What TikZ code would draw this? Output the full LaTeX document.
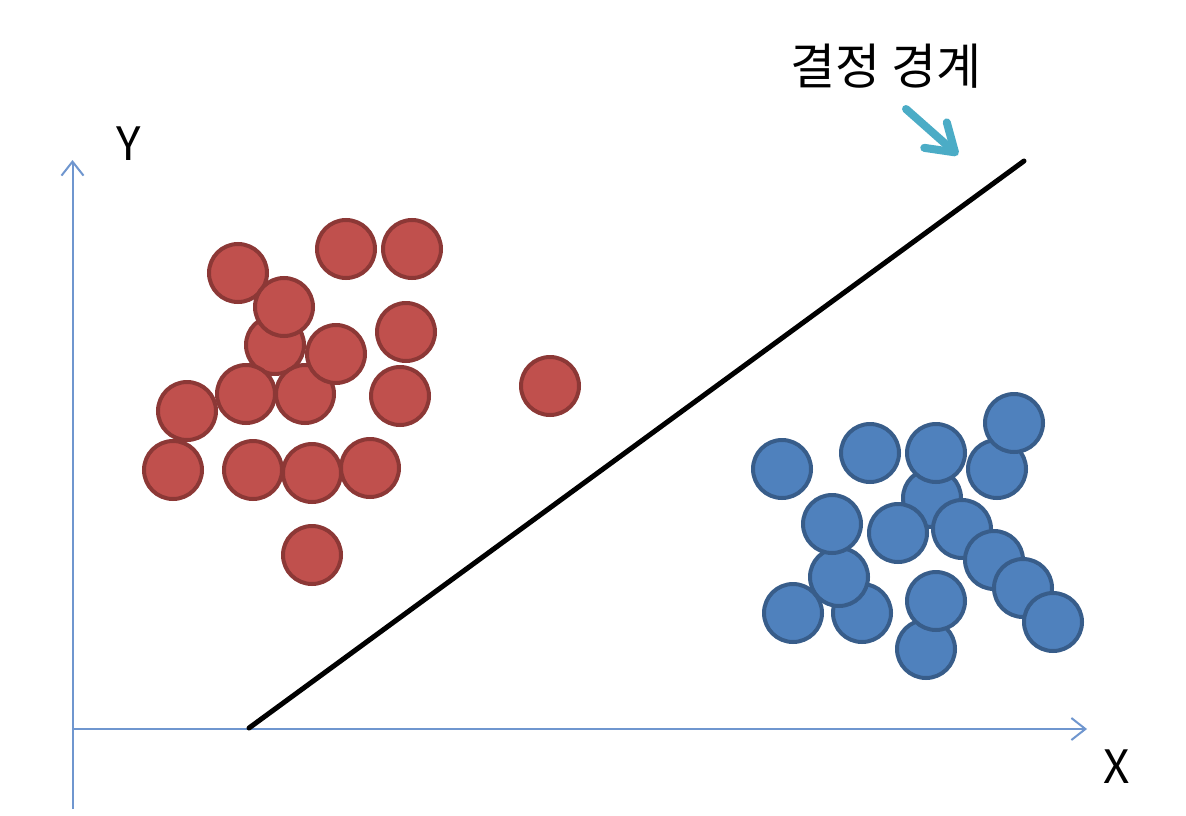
\documentclass[tikz,border=0pt]{standalone}
\usepackage{fontspec}
\setmainfont{Noto Sans CJK KR}
\usetikzlibrary{arrows.meta}
\definecolor{redfill}{HTML}{C0504D}
\definecolor{redline}{HTML}{8C3836}
\definecolor{bluefill}{HTML}{4F81BD}
\definecolor{blueline}{HTML}{385D8A}
\definecolor{axiscol}{HTML}{6F96CF}
\definecolor{aqua}{HTML}{4BACC6}
\tikzset{
  dot/.style={circle, minimum size=58pt, inner sep=0pt, line width=4pt},
  reddot/.style={dot, fill=redfill, draw=redline},
  bluedot/.style={dot, fill=bluefill, draw=blueline},
  axisline/.style={draw=axiscol, line width=2pt, -{Straight Barb[length=14pt,width=22pt]}},
  boundary/.style={draw=black, line width=5pt, line cap=round},
  pointer/.style={draw=aqua, line width=8pt, line cap=round, -{Straight Barb[round,length=26pt,width=34pt]}},
  bigtext/.style={inner sep=0pt, font=\fontsize{46}{52}\selectfont},
  labtext/.style={inner sep=0pt, font=\fontsize{49}{55}\selectfont}
}
\begin{document}
\begin{tikzpicture}[x=1pt,y=-1pt]
\useasboundingbox[fill=white] (0,0) rectangle (1186,816);
% axes
\coordinate (o) at (72.5,729);
\coordinate (ybot) at (72.5,809);
\coordinate (ytop) at (72.5,160);
\coordinate (xleft) at (72.5,729);
\coordinate (xright) at (1087,729);
\draw[draw=axiscol, line width=2pt] (ybot) -- (o);
\draw[axisline] (o) -- (ytop);
\draw[axisline] (xleft) -- (xright);
\node[bigtext] (ylab) at (129,144) {Y};
\node[bigtext] (xlab) at (1117,767) {X};
% decision boundary
\coordinate (b1) at (249,728);
\coordinate (b2) at (1024,161);
\draw[boundary] (b1) -- (b2);
% label and pointer
\node[labtext] (lab) at (886,66) {결정 경계};
\coordinate (ps) at (906,109);
\coordinate (pe) at (958,155);
\draw[pointer] (ps) -- (pe);
% red points
\node[reddot] (r12) at (173,470) {};
\node[reddot] (r11) at (187,411) {};
\node[reddot] (r13) at (253,470) {};
\node[reddot] (r14) at (312,473) {};
\node[reddot] (r15) at (370,468) {};
\node[reddot] (r1) at (238,273) {};
\node[reddot] (r5) at (275,345) {};
\node[reddot] (r8) at (246,394) {};
\node[reddot] (r9) at (305,394) {};
\node[reddot] (r6) at (336,354) {};
\node[reddot] (r4) at (284,307) {};
\node[reddot] (r2) at (346,249) {};
\node[reddot] (r3) at (412,249) {};
\node[reddot] (r7) at (406,332) {};
\node[reddot] (r10) at (400,396) {};
\node[reddot] (r16) at (312,555) {};
\node[reddot] (r17) at (550,386) {};
% blue points
\node[bluedot] (b01) at (782,469) {};
\node[bluedot] (b02) at (870,453) {};
\node[bluedot] (b04) at (932,498) {};
\node[bluedot] (b09) at (962,529) {};
\node[bluedot] (b10) at (994,560) {};
\node[bluedot] (b11) at (1023,588) {};
\node[bluedot] (b12) at (1053,622) {};
\node[bluedot] (b08) at (898,533) {};
\node[bluedot] (b03) at (936,453) {};
\node[bluedot] (b05) at (997,469) {};
\node[bluedot] (b06) at (1014,423) {};
\node[bluedot] (b14) at (793,613) {};
\node[bluedot] (b15) at (862,613) {};
\node[bluedot] (b13) at (839,577) {};
\node[bluedot] (b07) at (832,524) {};
\node[bluedot] (b17) at (926,649) {};
\node[bluedot] (b16) at (936,601) {};
\end{tikzpicture}
\end{document}
